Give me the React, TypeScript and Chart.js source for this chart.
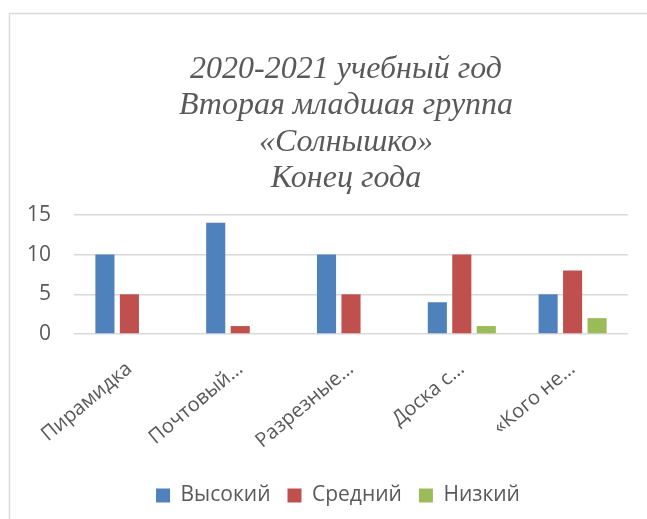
import React, { useEffect, useRef } from "react";
import { Chart, registerables } from "chart.js";

Chart.register(...registerables);

const categories = ["Пирамидка", "Почтовый…", "Разрезные…", "Доска с…", "«Кого не…"];
const highValues = [10, 14, 10, 4, 5];
const midValues = [5, 1, 5, 10, 8];
const lowValues = [0, 0, 0, 1, 2];
const titleLines = ["2020-2021 учебный год", "Вторая младшая группа", "«Солнышко»", "Конец года"];
const seriesNames = ["Высокий", "Средний", "Низкий"];

const TEXT = "#595959";

const borderPlugin = {
  id: "frameBorder",
  beforeDraw(chart: any) {
    const ctx = chart.ctx;
    ctx.save();
    ctx.strokeStyle = "#d9d9d9";
    ctx.lineWidth = 1.5;
    ctx.strokeRect(9.5, 13.5, 800, 700);
    ctx.restore();
  },
};

// Recentre the title and legend blocks horizontally (the reference frame is offset from the plot area)
const centerPlugin = {
  id: "blockCenter",
  afterLayout(chart: any) {
    const shift = (box: any, cx: number) => {
      if (!box) return;
      const w = box.right - box.left;
      box.left = cx - w / 2;
      box.right = cx + w / 2;
    };
    shift(chart.titleBlock, 346);
    shift(chart.legend, 338);
  },
};

export default function App() {
  const ref = useRef<HTMLCanvasElement>(null);
  useEffect(() => {
    if (!ref.current) return;
    const chart = new Chart(ref.current, {
      type: "bar",
      data: {
        labels: categories,
        datasets: [
          { label: seriesNames[0], data: highValues, backgroundColor: "#4F81BD" },
          { label: seriesNames[1], data: midValues, backgroundColor: "#C0504D" },
          { label: seriesNames[2], data: lowValues, backgroundColor: "#9BBB59" },
        ],
      },
      options: {
        responsive: false,
        animation: false,
        layout: { padding: { left: 4, right: 19, top: 0, bottom: 3 } },
        datasets: {
          bar: { categoryPercentage: 0.663, barPercentage: 0.78 },
        },
        plugins: {
          title: {
            display: true,
            text: titleLines,
            color: TEXT,
            font: { family: "Liberation Serif", size: 32, style: "italic", weight: "normal", lineHeight: 1.14 },
            padding: { top: 51, bottom: 18 },
          },
          legend: {
            position: "bottom",
            labels: {
              color: TEXT,
              font: { family: "'Open Sans', sans-serif", size: 21 },
              boxWidth: 14,
              boxHeight: 14,
              padding: 17,
            },
          },
          tooltip: { enabled: false },
        },
        scales: {
          x: {
            grid: { display: false },
            border: { display: false },
            ticks: {
              color: TEXT,
              font: { family: "'Open Sans', sans-serif", size: 20 },
              minRotation: 40,
              maxRotation: 40,
              padding: 15,
            },
          },
          y: {
            min: 0,
            max: 15,
            grid: { color: "#d9d9d9", lineWidth: 1.5, drawTicks: false },
            border: { display: false },
            ticks: {
              stepSize: 5,
              color: TEXT,
              font: { family: "'Open Sans', sans-serif", size: 21 },
              padding: 23,
            },
          },
        },
      },
      plugins: [borderPlugin, centerPlugin],
    });
    return () => chart.destroy();
  }, []);
  return (
    <div style={{ position: "absolute", left: 0, top: 0, width: 647, height: 519 }}>
      <canvas ref={ref} width={647} height={519} />
    </div>
  );
}
